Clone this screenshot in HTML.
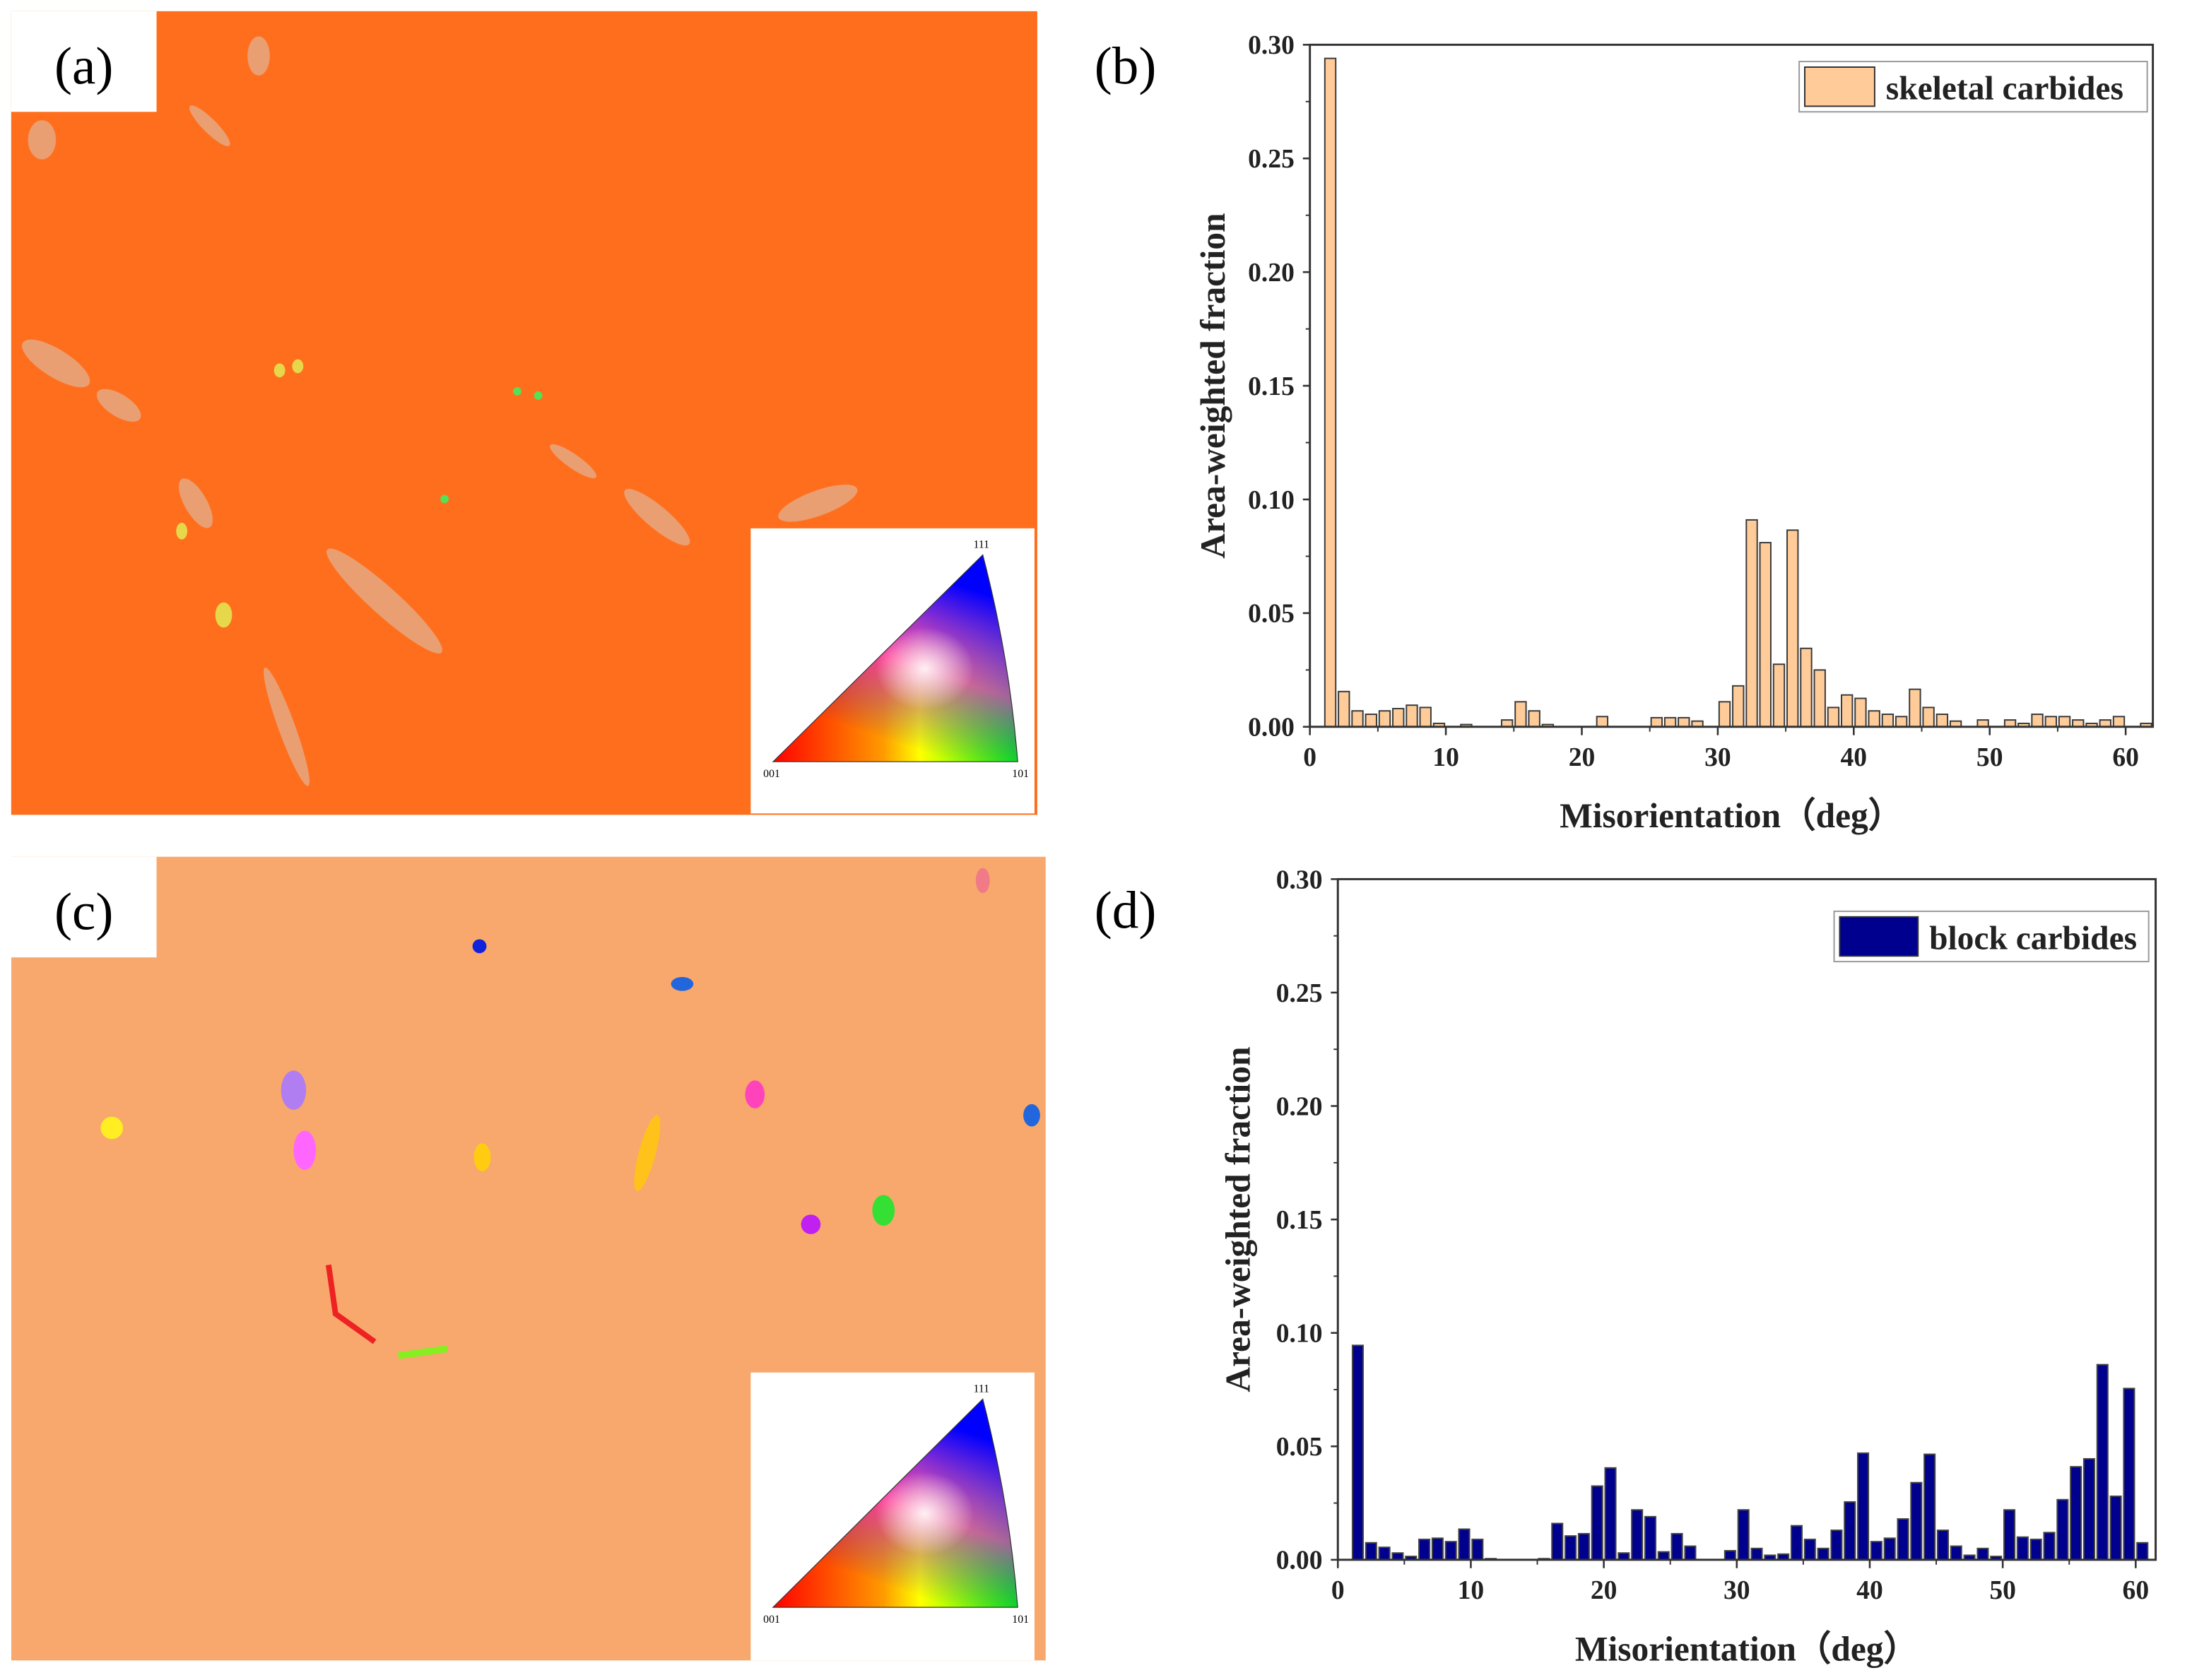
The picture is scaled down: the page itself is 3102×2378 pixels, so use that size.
<!DOCTYPE html>
<html><head><meta charset="utf-8"><style>
html,body{margin:0;padding:0;background:#fff;}
svg{display:block;}
text{font-family:"Liberation Serif",serif;}
</style></head>
<body>
<svg id="fig" width="3102" height="2378" viewBox="0 0 1568 1202" xmlns="http://www.w3.org/2000/svg">
<defs>
<linearGradient id="gH" x1="0" y1="0" x2="1" y2="0">
<stop offset="0" stop-color="#ff0000"/><stop offset="0.45" stop-color="#ff9a00"/><stop offset="0.6" stop-color="#ffff00"/><stop offset="1" stop-color="#00ff00"/>
</linearGradient>
<linearGradient id="gV" x1="0" y1="1" x2="0.4" y2="0">
<stop offset="0.25" stop-color="#0000ff" stop-opacity="0"/><stop offset="0.6" stop-color="#ff00ff" stop-opacity="0.6"/><stop offset="1" stop-color="#0000ff" stop-opacity="1"/>
</linearGradient>
<radialGradient id="gW" cx="0.62" cy="0.55" r="0.2">
<stop offset="0" stop-color="#fff" stop-opacity="0.9"/><stop offset="1" stop-color="#fff" stop-opacity="0"/>
</radialGradient>
</defs>

<!-- panel a -->
<g>
<rect x="8" y="8" width="734" height="575" fill="#ff6e1c"/>
<rect x="8" y="8" width="104" height="72" fill="#fff"/>
<text x="60" y="60" font-size="38" text-anchor="middle">(a)</text>
<g fill="#e9a278" opacity="0.95">
<ellipse cx="40" cy="260" rx="28" ry="10" transform="rotate(32 40 260)"/>
<ellipse cx="85" cy="290" rx="18" ry="8" transform="rotate(32 85 290)"/>
<ellipse cx="30" cy="100" rx="10" ry="14"/>
<ellipse cx="185" cy="40" rx="8" ry="14"/>
<ellipse cx="150" cy="90" rx="20" ry="5" transform="rotate(45 150 90)"/>
<ellipse cx="275" cy="430" rx="55" ry="10" transform="rotate(42 275 430)"/>
<ellipse cx="205" cy="520" rx="45" ry="6" transform="rotate(70 205 520)"/>
<ellipse cx="470" cy="370" rx="30" ry="8" transform="rotate(40 470 370)"/>
<ellipse cx="585" cy="360" rx="30" ry="9" transform="rotate(-20 585 360)"/>
<ellipse cx="140" cy="360" rx="20" ry="8" transform="rotate(60 140 360)"/>
<ellipse cx="410" cy="330" rx="20" ry="5" transform="rotate(35 410 330)"/>
</g>
<g fill="#e6d84a">
<ellipse cx="160" cy="440" rx="6" ry="9"/><ellipse cx="200" cy="265" rx="4" ry="5"/><ellipse cx="213" cy="262" rx="4" ry="5"/><ellipse cx="130" cy="380" rx="4" ry="6"/>
</g>
<g fill="#55e055"><circle cx="370" cy="280" r="3"/><circle cx="318" cy="357" r="3"/><circle cx="385" cy="283" r="3"/></g>
<rect x="537" y="378" width="203" height="204" fill="#fff"/>
<path d="M553,545 L703,397 Q722,470 728,545 Z" fill="url(#gH)"/>
<path d="M553,545 L703,397 Q722,470 728,545 Z" fill="url(#gV)"/>
<path d="M553,545 L703,397 Q722,470 728,545 Z" fill="url(#gW)" stroke="#333" stroke-width="0.6"/>
<text x="552" y="556" font-size="8" font-family="Liberation Sans" text-anchor="middle">001</text>
<text x="702" y="392" font-size="8" font-family="Liberation Sans" text-anchor="middle">111</text>
<text x="730" y="556" font-size="8" font-family="Liberation Sans" text-anchor="middle">101</text>
</g>

<!-- panel c -->
<g>
<rect x="8" y="613" width="740" height="575" fill="#f8a86c"/>
<rect x="8" y="613" width="104" height="72" fill="#fff"/>
<text x="60" y="665" font-size="38" text-anchor="middle">(c)</text>
<ellipse cx="210" cy="780" rx="9" ry="14" fill="#b07ef0"/>
<ellipse cx="218" cy="823" rx="8" ry="14" fill="#ff66ff"/>
<ellipse cx="463" cy="825" rx="6" ry="28" fill="#ffc21a" transform="rotate(15 463 825)"/>
<ellipse cx="632" cy="866" rx="8" ry="11" fill="#33e033"/>
<ellipse cx="580" cy="876" rx="7" ry="7" fill="#c020f0"/>
<ellipse cx="540" cy="783" rx="7" ry="10" fill="#ff44bb"/>
<ellipse cx="345" cy="828" rx="6" ry="10" fill="#ffcc11"/>
<ellipse cx="80" cy="807" rx="8" ry="8" fill="#ffee22"/>
<ellipse cx="738" cy="798" rx="6" ry="8" fill="#2266dd"/>
<ellipse cx="488" cy="704" rx="8" ry="5" fill="#2266dd"/>
<ellipse cx="343" cy="677" rx="5" ry="5" fill="#1122dd"/>
<path d="M235,905 L240,940 L268,960" stroke="#ee2222" stroke-width="4" fill="none"/>
<path d="M285,970 L320,965" stroke="#88ee22" stroke-width="5"/>
<ellipse cx="703" cy="630" rx="5" ry="9" fill="#f07b86"/>
<rect x="537" y="982" width="203" height="206" fill="#fff"/>
<path d="M553,1150 L703,1001 Q722,1075 728,1150 Z" fill="url(#gH)"/>
<path d="M553,1150 L703,1001 Q722,1075 728,1150 Z" fill="url(#gV)"/>
<path d="M553,1150 L703,1001 Q722,1075 728,1150 Z" fill="url(#gW)" stroke="#333" stroke-width="0.6"/>
<text x="552" y="1161" font-size="8" font-family="Liberation Sans" text-anchor="middle">001</text>
<text x="702" y="996" font-size="8" font-family="Liberation Sans" text-anchor="middle">111</text>
<text x="730" y="1161" font-size="8" font-family="Liberation Sans" text-anchor="middle">101</text>
</g>

<text x="805" y="60" font-size="38" text-anchor="middle">(b)</text>
<text x="805" y="664" font-size="38" text-anchor="middle">(d)</text>

<g id="chartB"></g>
<g id="chartD"></g>
</svg>
<script>
const binCentersB = [];
for (let i = 1; i <= 61; i++) binCentersB.push(i + 0.5);
const skeletalValues = [0.294,0.0155,0.007,0.0055,0.007,0.008,0.0095,0.0085,0.0015,0,0.001,0,0,0.003,0.011,0.007,0.001,0,0,0,0.0045,0,0,0,0.004,0.004,0.004,0.0025,0,0.011,0.018,0.091,0.081,0.0275,0.0865,0.0345,0.025,0.0085,0.014,0.0125,0.007,0.0055,0.0045,0.0165,0.0085,0.0055,0.0025,0,0.003,0,0.003,0.0015,0.0055,0.0045,0.0045,0.003,0.0015,0.003,0.0045,0,0.0015];
const binCentersD = [];
for (let i = 1; i <= 60; i++) binCentersD.push(i + 0.5);
const blockValues = [0.0945,0.0075,0.0055,0.003,0.0015,0.009,0.0095,0.008,0.0135,0.009,0.0005,0,0,0,0.0005,0.016,0.0105,0.0115,0.0325,0.0405,0.003,0.022,0.019,0.0035,0.0115,0.006,0,0,0.004,0.022,0.005,0.002,0.0025,0.015,0.009,0.005,0.013,0.0255,0.047,0.008,0.0095,0.018,0.034,0.0465,0.013,0.006,0.002,0.005,0.0015,0.022,0.010,0.009,0.012,0.0265,0.041,0.0445,0.086,0.028,0.0755,0.0075];
const yTickLabels = ["0.00","0.05","0.10","0.15","0.20","0.25","0.30"];
const xTickLabels = ["0","10","20","30","40","50","60"];

const NS = "http://www.w3.org/2000/svg";
function mk(parent, tag, attrs, text) {
  const e = document.createElementNS(NS, tag);
  for (const k in attrs) e.setAttribute(k, attrs[k]);
  if (text !== undefined) e.textContent = text;
  parent.appendChild(e);
  return e;
}

function drawChart(g, cfg, centers, values) {
  const X = v => cfg.L + (v / cfg.xmax) * (cfg.R - cfg.L);
  const Y = v => cfg.B - (v / 0.30) * (cfg.B - cfg.T);
  for (let i = 0; i < values.length; i++) {
    if (values[i] <= 0) continue;
    const x0 = X(centers[i] - 0.4), x1 = X(centers[i] + 0.4);
    const r = mk(g, "rect", {x: x0, y: Y(values[i]), width: x1 - x0, height: cfg.B - Y(values[i]), fill: cfg.fill, stroke: cfg.stroke, "stroke-width": 1});
    
    
  }
  const fr = mk(g, "rect", {x: cfg.L, y: cfg.T, width: cfg.R - cfg.L, height: cfg.B - cfg.T, fill: "none", stroke: "#333", "stroke-width": 1.5});
  
  
  for (let i = 0; i < yTickLabels.length; i++) {
    const v = parseFloat(yTickLabels[i]);
    mk(g, "line", {x1: cfg.L - 5, x2: cfg.L, y1: Y(v), y2: Y(v), stroke: "#333", "stroke-width": 1.3});
    const t = mk(g, "text", {x: cfg.L - 11, y: Y(v) + 6.5, "font-size": 19, "font-weight": "bold", "text-anchor": "end", fill: "#222"}, yTickLabels[i]);
    
    
    if (i < yTickLabels.length - 1) mk(g, "line", {x1: cfg.L - 3, x2: cfg.L, y1: Y(v + 0.025), y2: Y(v + 0.025), stroke: "#333", "stroke-width": 1});
  }
  for (let i = 0; i < xTickLabels.length; i++) {
    const v = parseFloat(xTickLabels[i]);
    mk(g, "line", {x1: X(v), x2: X(v), y1: cfg.B, y2: cfg.B + 6, stroke: "#333", "stroke-width": 1.3});
    const t = mk(g, "text", {x: X(v), y: cfg.B + 28, "font-size": 19, "font-weight": "bold", "text-anchor": "middle", fill: "#222"}, xTickLabels[i]);
    
    
    if (v + 5 < cfg.xmax) mk(g, "line", {x1: X(v + 5), x2: X(v + 5), y1: cfg.B, y2: cfg.B + 3.5, stroke: "#333", "stroke-width": 1});
  }
  const xt = mk(g, "text", {x: (cfg.L + cfg.R) / 2, y: cfg.B + 72, "font-size": 25, "font-weight": "bold", "text-anchor": "middle", fill: "#222"}, "Misorientation（deg）");
  
  
  const yc = (cfg.T + cfg.B) / 2 + cfg.ytOff;
  const yt = mk(g, "text", {x: cfg.ytX, y: yc, "font-size": 25, "font-weight": "bold", "text-anchor": "middle", fill: "#222", transform: "rotate(-90 " + cfg.ytX + " " + yc + ")"}, "Area-weighted fraction");
  
  
  const lg = mk(g, "g", {});
  
  
  mk(lg, "rect", {x: cfg.lgX, y: cfg.lgY, width: cfg.lgW, height: 36, fill: "#fff", stroke: "#999", "stroke-width": 1});
  mk(lg, "rect", {x: cfg.lgX + 4, y: cfg.lgY + 4, width: cfg.swW, height: 28, fill: cfg.fill, stroke: "#333", "stroke-width": 1});
  mk(lg, "text", {x: cfg.lgX + cfg.swW + 12, y: cfg.lgY + 27, "font-size": 24, "font-weight": "bold", fill: "#222"}, cfg.label);
}

drawChart(document.getElementById("chartB"),
  {L: 937, R: 1540, T: 32, B: 520, xmax: 62, fill: "#ffcc99", stroke: "#3a3a3a", ytX: 876, ytOff: 0,
   lgX: 1287, lgY: 44, lgW: 249, swW: 50, label: "skeletal carbides"}, binCentersB, skeletalValues);
drawChart(document.getElementById("chartD"),
  {L: 957, R: 1542, T: 629, B: 1116, xmax: 61.5, fill: "#00008e", stroke: "#444", ytX: 894, ytOff: 0,
   lgX: 1312, lgY: 652, lgW: 225, swW: 56, label: "block carbides"}, binCentersD, blockValues);
</script>
</body></html>
